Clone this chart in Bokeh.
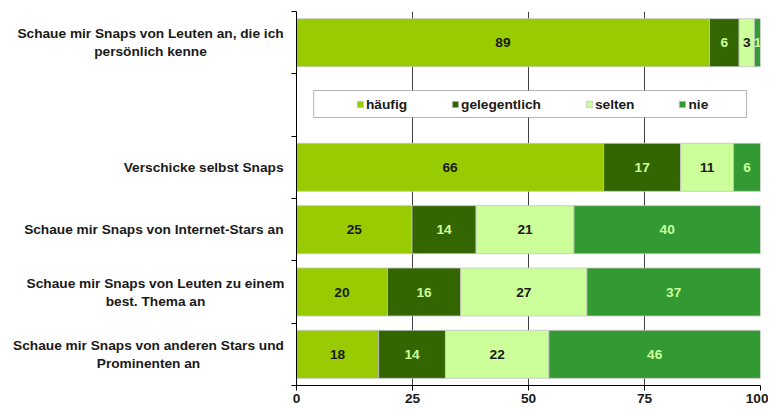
from bokeh.plotting import figure
from bokeh.layouts import row
from bokeh.models import (ColumnDataSource, Range1d, FixedTicker, Legend, LegendItem,
                          BoxAnnotation)
from bokeh.core.properties import value
from bokeh.embed import file_html
from bokeh.resources import INLINE

# ---- data (top to bottom; None marks the empty slot holding the legend) ----
categories = [
    "Schaue mir Snaps von Leuten an, die ich\npersönlich kenne",
    None,
    "Verschicke selbst Snaps",
    "Schaue mir Snaps von Internet-Stars an",
    "Schaue mir Snaps von Leuten zu einem\nbest. Thema an",
    "Schaue mir Snaps von anderen Stars und\nProminenten an",
]
series = ["häufig", "gelegentlich", "selten", "nie"]
haeufig      = [89.0, 66.2, 24.9, 19.6, 17.7]
gelegentlich = [6.4, 16.6, 13.8, 15.8, 14.4]
selten       = [3.3, 11.4, 21.1, 27.2, 22.3]
nie          = [1.3, 5.8, 40.2, 37.4, 45.6]
x_ticks = [0, 25, 50, 75, 100]

colors = ["#99CC00", "#336600", "#CCFF99", "#339933"]
label_colors = ["#1a1a1a", "#CCFF99", "#1a1a1a", "#CCFF99"]
FONT = "Liberation Sans"
FS = "13.7px"
TOP, BOTTOM = 11, 23
LEFT_W = 286

n_slots = len(categories)
slot_y = [n_slots - i - 0.5 for i in range(n_slots)]
cat_y = [y for c, y in zip(categories, slot_y) if c is not None]
cat_names = [c for c in categories if c is not None]

data = {"y": cat_y, "häufig": haeufig, "gelegentlich": gelegentlich,
        "selten": selten, "nie": nie}
source = ColumnDataSource(data)
y_range = Range1d(0, n_slots)

# ---------------- main chart ----------------
p = figure(width=768 - LEFT_W, height=408, output_backend="svg", toolbar_location=None,
           x_range=Range1d(0, 100), y_range=y_range,
           min_border_left=296 - LEFT_W, min_border_right=8, min_border_top=TOP,
           min_border_bottom=BOTTOM)
p.outline_line_color = None
p.background_fill_color = "white"

renderers = p.hbar_stack(series, y="y", height=0.77, color=colors, source=source,
                         line_color="#c4c4c4", line_width=0.8)

# value labels
vals = [haeufig, gelegentlich, selten, nie]
lx, ly, lt, lc = [], [], [], []
for j in range(len(cat_y)):
    left = 0.0
    for s in range(len(series)):
        v = vals[s][j]
        lx.append(left + v / 2)
        ly.append(cat_y[j])
        lt.append(str(int(round(v))))
        lc.append(label_colors[s])
        left += v
p.text(x=lx, y=ly, text=lt, text_color=lc, text_align="center",
       text_baseline="middle", text_font=value(FONT), text_font_style="bold",
       text_font_size=FS)

# x axis
p.xaxis.ticker = FixedTicker(ticks=x_ticks)
p.xaxis.axis_line_color = "black"
p.xaxis.major_tick_line_color = "black"
p.xaxis.major_tick_out = 5
p.xaxis.major_tick_in = 0
p.xaxis.minor_tick_line_color = None
p.xaxis.major_label_text_font = FONT
p.xaxis.major_label_text_font_style = "bold"
p.xaxis.major_label_text_font_size = FS
p.xaxis.major_label_text_color = "#1a1a1a"
p.xaxis.major_label_standoff = 3

# y axis: only tick marks (minor ticks) at slot boundaries, no tick labels
p.yaxis.ticker = FixedTicker(ticks=[], minor_ticks=list(range(n_slots + 1)))
p.yaxis.major_label_standoff = 0
p.yaxis.axis_line_color = "black"
p.yaxis.major_tick_line_color = None
p.yaxis.minor_tick_line_color = "black"
p.yaxis.minor_tick_out = 5
p.yaxis.minor_tick_in = 0

p.xgrid.ticker = FixedTicker(ticks=x_ticks[1:])
p.xgrid.grid_line_color = "#404040"
p.xgrid.grid_line_width = 1
p.ygrid.grid_line_color = None

# legend box and legend
legend_slot = slot_y[categories.index(None)]
box = BoxAnnotation(left=3.7, right=97.0, bottom=legend_slot - 0.2,
                    top=legend_slot + 0.233, fill_color="white", fill_alpha=1,
                    line_color="black", line_width=1, level="annotation")
p.add_layout(box)

items = [LegendItem(label=s, renderers=[r]) for s, r in zip(series, renderers)]
legend = Legend(items=items, orientation="horizontal", location=(60, 273),
                border_line_color=None, background_fill_alpha=0, padding=0,
                margin=0, spacing=44, glyph_width=8, glyph_height=8,
                label_standoff=2, label_height=16, label_text_font=FONT,
                label_text_font_style="bold", label_text_font_size=FS,
                label_text_color="#1a1a1a")
p.add_layout(legend, "center")

# ---------------- category label panel ----------------
q = figure(width=LEFT_W, height=408, output_backend="svg", toolbar_location=None,
           x_range=Range1d(0, LEFT_W), y_range=y_range,
           x_axis_location=None, y_axis_location=None,
           min_border_left=0, min_border_right=0, min_border_top=TOP,
           min_border_bottom=BOTTOM)
q.outline_line_color = None
q.xgrid.grid_line_color = None
q.ygrid.grid_line_color = None

multi_center = [150, 155, 148]
tx, ta = [], []
k = 0
for c in cat_names:
    if "\n" in c:
        tx.append(multi_center[k]); ta.append("center"); k += 1
    else:
        tx.append(283); ta.append("right")
q.text(x=tx, y=cat_y, text=cat_names, text_align=ta, text_baseline="middle",
       text_font=value(FONT), text_font_style="bold", text_font_size=FS,
       text_color="#1a1a1a", text_line_height=1.2)

layout = row(q, p, spacing=0)
open("out.html", "w").write(file_html(layout, INLINE))
